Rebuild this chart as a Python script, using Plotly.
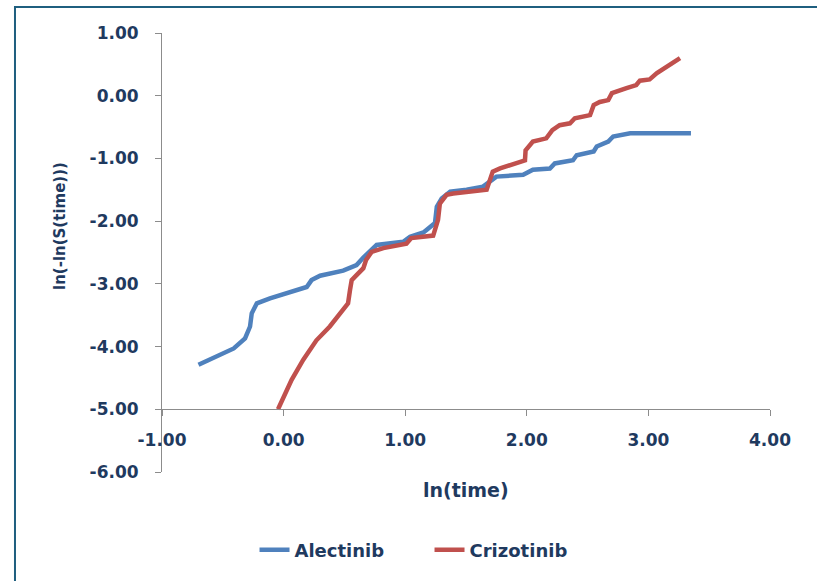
import plotly.graph_objects as go

# ---- data ----
alectinib_x = [-0.70, -0.55, -0.41, -0.317, -0.276, -0.262, -0.22, -0.112, 0.053, 0.19, 0.23, 0.30,
               0.49, 0.60, 0.656, 0.74, 0.765, 0.984, 1.04, 1.15, 1.20, 1.245, 1.26, 1.30, 1.37,
               1.505, 1.64, 1.70, 1.75, 1.97, 2.05, 2.19, 2.23, 2.38, 2.41, 2.55, 2.575, 2.67,
               2.71, 2.85, 3.35]
alectinib_y = [-4.29, -4.16, -4.03, -3.87, -3.68, -3.47, -3.31, -3.23, -3.125, -3.05, -2.94, -2.87,
               -2.79, -2.70, -2.58, -2.43, -2.38, -2.33, -2.25, -2.18, -2.09, -2.03, -1.77, -1.64, -1.53,
               -1.50, -1.45, -1.37, -1.29, -1.26, -1.18, -1.16, -1.08, -1.03, -0.95, -0.89, -0.81, -0.73,
               -0.65, -0.60, -0.60]

crizotinib_x = [-0.046, 0.066, 0.162, 0.27, 0.38, 0.49, 0.53, 0.546, 0.56, 0.60, 0.656, 0.678, 0.724,
                0.82, 1.01, 1.05, 1.23, 1.27, 1.285, 1.34, 1.395, 1.67, 1.70, 1.72, 1.78, 1.89, 1.985,
                1.99, 2.05, 2.16, 2.21, 2.27, 2.355, 2.395, 2.52, 2.55, 2.60, 2.67, 2.70, 2.82, 2.90,
                2.93, 3.01, 3.07, 3.15, 3.26]
crizotinib_y = [-5.0, -4.53, -4.21, -3.90, -3.68, -3.42, -3.31, -3.10, -2.94, -2.86, -2.75, -2.62, -2.49,
                -2.43, -2.36, -2.27, -2.23, -1.98, -1.72, -1.58, -1.56, -1.50, -1.34, -1.21, -1.16, -1.10, -1.03,
                -0.87, -0.73, -0.68, -0.55, -0.47, -0.44, -0.36, -0.31, -0.15, -0.10, -0.07, 0.04, 0.12, 0.17,
                0.24, 0.26, 0.36, 0.46, 0.60]

x_tick_vals = [-1, 0, 1, 2, 3, 4]
x_tick_text = ["-1.00", "0.00", "1.00", "2.00", "3.00", "4.00"]
y_tick_vals = [1, 0, -1, -2, -3, -4, -5, -6]
y_tick_text = ["1.00", "0.00", "-1.00", "-2.00", "-3.00", "-4.00", "-5.00", "-6.00"]

TEXT = "#1F3A5F"
FONT = "DejaVu Sans"
AXIS = "#8C8C8C"

fig = go.Figure()
fig.add_trace(go.Scatter(x=alectinib_x, y=alectinib_y, mode="lines", name="Alectinib",
                         line=dict(color="#4F81BD", width=4.5)))
fig.add_trace(go.Scatter(x=crizotinib_x, y=crizotinib_y, mode="lines", name="Crizotinib",
                         line=dict(color="#C0504D", width=4.5)))

fig.update_layout(
    width=817, height=581,
    margin=dict(l=162, r=47, t=33, b=109),
    paper_bgcolor="white", plot_bgcolor="white",
    font=dict(family=FONT, color=TEXT, size=17),
    showlegend=True,
    legend=dict(orientation="h", x=0.44, y=-0.178, xanchor="center", yanchor="middle",
                font=dict(family=FONT, size=18, color=TEXT, weight="bold"),
                bgcolor="rgba(0,0,0,0)", entrywidth=130, entrywidthmode="pixels"),
    xaxis=dict(range=[-1, 4], tickvals=x_tick_vals, ticktext=x_tick_text,
               anchor="free", position=1/7, showline=True, linecolor=AXIS, linewidth=1,
               ticks="outside", ticklen=6, tickcolor=AXIS, showgrid=False, zeroline=False,
               ticklabelstandoff=9,
               tickfont=dict(family=FONT, size=17, color=TEXT, weight="bold")),
    yaxis=dict(range=[-6, 1], tickvals=y_tick_vals, ticktext=y_tick_text,
               showline=True, linecolor=AXIS, linewidth=1,
               ticks="outside", ticklen=6, tickcolor=AXIS, showgrid=False, zeroline=False,
               ticklabelstandoff=13,
               tickfont=dict(family=FONT, size=17, color=TEXT, weight="bold")),
    annotations=[
        dict(text="ln(-ln(S(time)))", xref="paper", yref="paper", x=-0.168, y=0.56,
             textangle=-90, showarrow=False, xanchor="center", yanchor="middle",
             font=dict(family=FONT, size=15, color=TEXT, weight="bold")),
        dict(text="ln(time)", xref="paper", yref="paper", x=0.5, y=-0.041,
             showarrow=False, xanchor="center", yanchor="middle",
             font=dict(family=FONT, size=19, color=TEXT, weight="bold")),
    ],
    shapes=[
        dict(type="rect", xref="paper", yref="paper", x0=-0.2418, x1=1.12, y0=-0.3, y1=1.0592,
             line=dict(color="#1F5F7F", width=2), fillcolor="rgba(0,0,0,0)", layer="below"),
    ],
)

fig.write_html("out.html")
